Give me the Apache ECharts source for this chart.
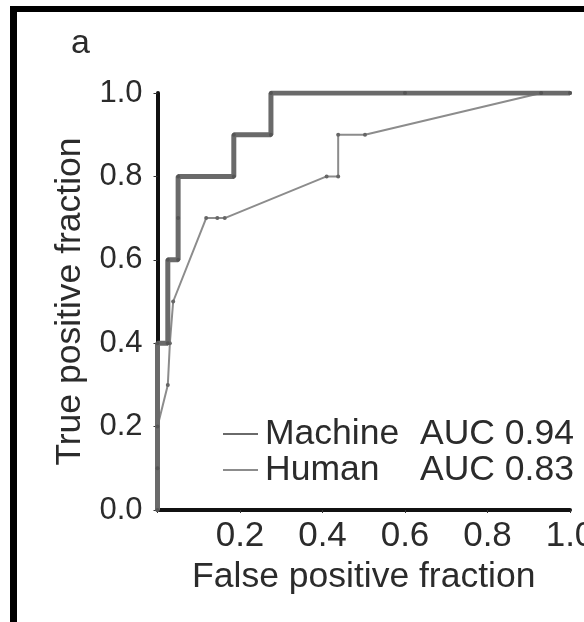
<!DOCTYPE html>
<html>
<head>
<meta charset="utf-8">
<script src="https://cdn.jsdelivr.net/npm/echarts@6/dist/echarts.min.js"></script>
<style>
  html, body { margin: 0; padding: 0; background: #fff; }
  #chart { width: 584px; height: 622px; }
</style>
</head>
<body>
<div id="chart"></div>
<script>
// ROC curves
const machineFpr = [0, 0, 0, 0, 0.025, 0.025, 0.05, 0.05, 0.05, 0.185, 0.185, 0.275, 0.275, 0.6, 0.93, 1.0];
const machineTpr = [0, 0.1, 0.2, 0.4, 0.4, 0.6, 0.6, 0.7, 0.8, 0.8, 0.9, 0.9, 1.0, 1.0, 1.0, 1.0];
const humanFpr = [0, 0, 0.025, 0.03, 0.038, 0.118, 0.145, 0.163, 0.41, 0.438, 0.438, 0.503, 0.93, 1.0];
const humanTpr = [0, 0.2, 0.3, 0.4, 0.5, 0.7, 0.7, 0.7, 0.8, 0.8, 0.9, 0.9, 1.0, 1.0];
const xTicks = ['0.2', '0.4', '0.6', '0.8', '1.0'];
const legendNames = ['Machine', 'Human'];
const aucValues = ['AUC 0.94', 'AUC 0.83'];

const font = 'Liberation Sans, Arial, sans-serif';
const textColor = '#2b2b2b';
const toPairs = (xs, ys) => xs.map((x, i) => [x, ys[i]]);

const chart = echarts.init(document.getElementById('chart'));

chart.setOption({
  animation: false,
  backgroundColor: '#fff',
  grid: { left: 157.5, right: 14, top: 93, bottom: 112, containLabel: false, outerBoundsMode: 'none' },
  xAxis: {
    type: 'value', min: 0, max: 1, interval: 0.2,
    name: 'False positive fraction', nameLocation: 'middle', nameGap: 42,
    nameTextStyle: { fontFamily: font, fontSize: 35.5, color: textColor },
    axisLine: { lineStyle: { color: '#111', width: 4 } },
    axisTick: { show: true, length: 3, lineStyle: { color: '#333' } },
    axisLabel: {
      fontFamily: font, fontSize: 35, color: textColor, margin: 9,
      formatter: v => xTicks.includes(v.toFixed(1)) ? v.toFixed(1) : ''
    },
    splitLine: { show: false }
  },
  yAxis: {
    type: 'value', min: 0, max: 1, interval: 0.2,
    name: 'True positive fraction', nameLocation: 'middle', nameGap: 65,
    nameTextStyle: { fontFamily: font, fontSize: 35.5, color: textColor },
    axisLine: { lineStyle: { color: '#111', width: 4 } },
    axisTick: { show: true, length: 4, lineStyle: { color: '#333' } },
    axisLabel: { fontFamily: font, fontSize: 31, color: textColor, margin: 15, formatter: v => v.toFixed(1) },
    splitLine: { show: false }
  },
  legend: {
    orient: 'vertical', left: 217, top: 411,
    itemWidth: 35, itemHeight: 14, itemGap: 0,
    itemStyle: { opacity: 0 },
    data: legendNames,
    formatter: name => '{n|' + name + '}{a|' + aucValues[legendNames.indexOf(name)] + '}',
    textStyle: {
      fontFamily: font, fontSize: 35.5, color: textColor, padding: [0, 0, 0, 2],
      rich: {
        n: { fontFamily: font, fontSize: 35.5, color: textColor, width: 155, lineHeight: 36 },
        a: { fontFamily: font, fontSize: 35.5, color: textColor, lineHeight: 36 }
      }
    }
  },
  series: [
    {
      name: 'Machine', type: 'line', data: toPairs(machineFpr, machineTpr),
      symbol: 'circle', symbolSize: 4, showSymbol: true,
      lineStyle: { color: '#6a6a6a', width: 5 },
      itemStyle: { color: '#555' }, z: 3
    },
    {
      name: 'Human', type: 'line', data: toPairs(humanFpr, humanTpr),
      symbol: 'circle', symbolSize: 4, showSymbol: true,
      lineStyle: { color: '#8c8c8c', width: 2 },
      itemStyle: { color: '#666' }, z: 2
    }
  ],
  graphic: [
    { type: 'rect', shape: { x: 10, y: 6, width: 574, height: 6 }, style: { fill: '#000' } },
    { type: 'rect', shape: { x: 10, y: 6, width: 7, height: 616 }, style: { fill: '#000' } },
    { type: 'text', x: 71, y: 44, style: { text: 'a', fontFamily: font, fontSize: 34, fill: textColor, verticalAlign: 'middle' } }
  ]
});
</script>
</body>
</html>
